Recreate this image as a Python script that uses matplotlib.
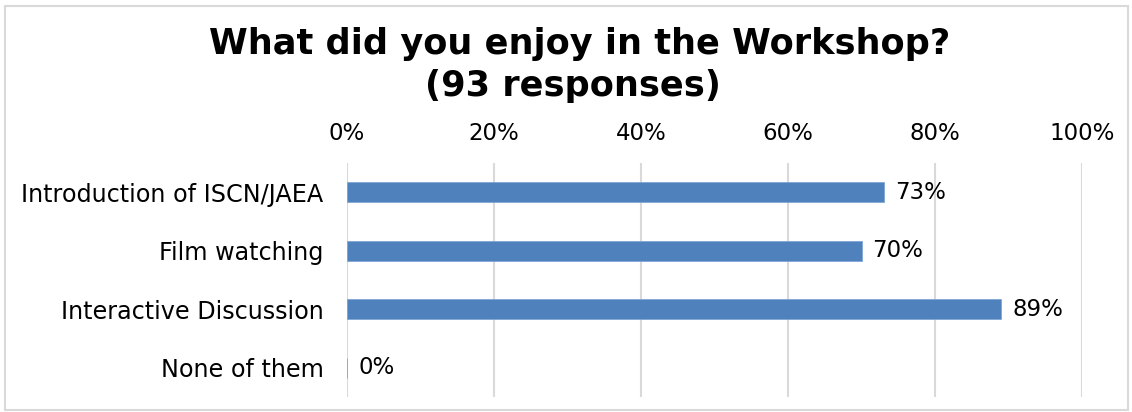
import matplotlib
matplotlib.use("Agg")
import matplotlib.pyplot as plt
from matplotlib.patches import Rectangle

categories = ["Introduction of ISCN/JAEA", "Film watching",
              "Interactive Discussion", "None of them"]
values = [73, 70, 89, 0]
ticks = [0, 20, 40, 60, 80, 100]
tick_labels = ["0%", "20%", "40%", "60%", "80%", "100%"]

plt.rcParams["font.family"] = "DejaVu Sans"

fig = plt.figure(figsize=(11.32, 4.12), dpi=100)
ax = fig.add_axes([347 / 1132, 1 - 397 / 412, 735 / 1132, 234 / 412])

y = list(range(len(categories)))
ax.barh(y, values, height=0.34, color="#4F81BD", edgecolor="#7FA6D6",
        linewidth=0.6, zorder=3)
for yi, v in zip(y, values):
    ax.annotate(f"{v}%", (v, yi), xytext=(8, 0), textcoords="offset points",
                va="center", ha="left", fontsize=16.5, color="#000000")

ax.set_xlim(0, 100)
ax.set_ylim(len(categories) - 0.5, -0.5)
ax.set_xticks(ticks)
ax.set_xticklabels(tick_labels, fontsize=16.5)
ax.set_yticks(y)
ax.set_yticklabels(categories, fontsize=17.2)
ax.xaxis.tick_top()
ax.tick_params(axis="x", length=0, pad=13)
ax.tick_params(axis="y", length=0, pad=17)
ax.grid(axis="x", color="#D9D9D9", linewidth=1.5, zorder=0)
for s in ax.spines.values():
    s.set_visible(False)

fig.text(580 / 1132, 1 - 44 / 412, "What did you enjoy in the Workshop?",
         ha="center", va="center", fontsize=25.3, fontweight="bold")
fig.text(573 / 1132, 1 - 86 / 412, "(93 responses)",
         ha="center", va="center", fontsize=25.3, fontweight="bold")

# light frame around the whole chart
fig.patches.append(Rectangle((5 / 1132, 2 / 412), 1123 / 1132, 404 / 412,
                             transform=fig.transFigure, fill=False,
                             edgecolor="#D9D9D9", linewidth=1.5))

fig.savefig("out.png", dpi=100)
